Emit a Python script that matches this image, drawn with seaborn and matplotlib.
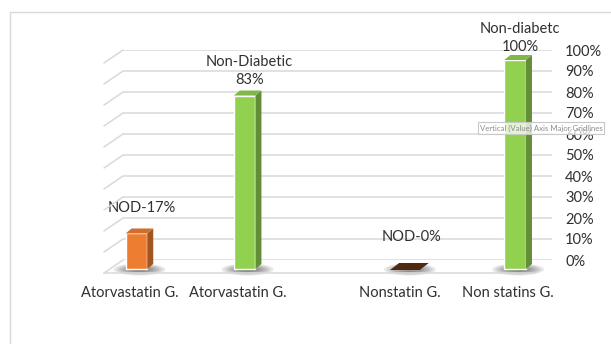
import matplotlib
matplotlib.use("Agg")
import numpy as np
import pandas as pd
import seaborn as sns
import matplotlib.pyplot as plt
from matplotlib.patches import Polygon, Ellipse
from matplotlib.lines import Line2D
from matplotlib.transforms import IdentityTransform

# ---------------- data ----------------
groups = ["Atorvastatin", "Atorvastatin", "Nonstatin", "Nonstatin"]
status = ["NOD", "Non-Diabetic", "NOD", "Non-Diabetic"]
values = [17, 83, 0, 100]
tick_labels = ["Atorvastatin G.", "Atorvastatin G.", "Nonstatin G.", "Non statins G."]
data_labels = ["NOD-17%", "Non-Diabetic\n83%", "NOD-0%", "Non-diabetc\n100%"]
y_ticks = [0, 10, 20, 30, 40, 50, 60, 70, 80, 90, 100]

# ---------------- style ----------------
sns.set_style("white")
plt.rcParams["font.family"] = ["Lato", "DejaVu Sans"]
TXT = "#303030"
GRID = "#D9D9D9"
ORANGE = "#ED7D31"
GREEN = "#92D050"
ZERO_TOP = "#4E2A10"
DX, DY = 6, 5                       # depth of the 3-D boxes in pixels
label_gap_px = [18, 9, 25, 6]       # gap between bar top and its data label
tick_shift_px = -7

W, H = 611, 344
fig = plt.figure(figsize=(W / 100, H / 100), dpi=100)
fig.patch.set_facecolor("white")


def fx(px):
    return px / W


def fy(py):
    return 1 - py / H


def shade(c, f):
    r, g, b = matplotlib.colors.to_rgb(c)
    return (r * f, g * f, b * f)


# chart-area border (top and left edges visible)
fig.add_artist(Line2D([fx(10), fx(10)], [fy(12), 0], color=GRID, lw=1))
fig.add_artist(Line2D([fx(10), 1], [fy(12), fy(12)], color=GRID, lw=1))

# ---------------- back wall (gridlines + value axis) ----------------
back = fig.add_axes([fx(123), fy(260), (552 - 123) / W, 210 / H])
back.set_xlim(0, 1)
back.set_ylim(0, 100)
for t in y_ticks:
    back.axhline(t, color=GRID, lw=1.1, zorder=0)
back.yaxis.tick_right()
back.set_yticks(y_ticks, [f"{t}%" for t in y_ticks])
back.tick_params(axis="y", length=0, pad=9.4, labelsize=10.5, labelcolor=TXT)
back.set_xticks([])
for s in back.spines.values():
    s.set_visible(False)
back.patch.set_alpha(0)

# side-wall slants for each gridline and the floor front edge
for t in y_ticks:
    x0, y0 = back.transData.transform((0, t))
    fig.add_artist(Line2D([x0, x0 - 19], [y0, y0 - 13], color=GRID, lw=1.1,
                          transform=IdentityTransform()))
x0, y0 = back.transData.transform((0, 0))
x1, _ = back.transData.transform((1, 0))
fig.add_artist(Line2D([x0 - 19, x1 - 19], [y0 - 12.5, y0 - 12.5], color=GRID, lw=1.1,
                      transform=IdentityTransform()))

# ---------------- front plane with the bars ----------------
ax = fig.add_axes([fx(104), fy(269), (533 - 104) / W, 209 / H])
ax.patch.set_alpha(0)
df = pd.DataFrame({"group": groups, "status": status, "value": values})
sns.barplot(data=df, x="group", y="value", hue="status",
            hue_order=["NOD", "Non-Diabetic"], palette=[ORANGE, GREEN],
            width=0.8, gap=0.8, saturation=1, legend=False, ax=ax, zorder=3)
bars = sorted(list(ax.patches), key=lambda p: p.get_x())
ax.set_xlim(-0.3198, 1.266)
ax.set_ylim(0, 100)
ax.set_xticks([])
ax.set_yticks([])
ax.set_xlabel("")
ax.set_ylabel("")
for s in ax.spines.values():
    s.set_visible(False)

for i, p in enumerate(bars):
    x0d, h = p.get_x(), p.get_height()
    x1d = x0d + p.get_width()
    (px0, py0) = ax.transData.transform((x0d, 0))
    (px1, py1) = ax.transData.transform((x1d, h))
    base = p.get_facecolor()
    # soft shadow on the floor
    cx = (px0 + px1) / 2 + 3
    for k in range(7):
        e = Ellipse((cx, py0 - 0.5), 52 - k * 6, 12 - k * 1.4, color="black",
                    alpha=0.085, lw=0, transform=IdentityTransform(), zorder=1,
                    clip_on=False)
        ax.add_artist(e)
    if h > 0:
        side = Polygon([(px1, py0), (px1, py1), (px1 + DX, py1 + DY), (px1 + DX, py0 + DY)],
                       closed=True, fc=shade(base, 0.68), ec="none",
                       transform=IdentityTransform(), zorder=4, clip_on=False)
        top = Polygon([(px0, py1), (px1, py1), (px1 + DX, py1 + DY), (px0 + DX, py1 + DY)],
                      closed=True, fc=shade(base, 0.88), ec="none",
                      transform=IdentityTransform(), zorder=4, clip_on=False)
        ax.add_artist(side)
        ax.add_artist(top)
    else:
        top = Polygon([(px0 - 6, py1 - 1), (px1 + 2, py1 - 1),
                       (px1 + DX + 5, py1 + DY + 1), (px0 + DX - 3, py1 + DY + 1)],
                      closed=True, fc=ZERO_TOP, ec="none",
                      transform=IdentityTransform(), zorder=4, clip_on=False)
        ax.add_artist(top)
    p.set_zorder(3)
    p.set_clip_on(False)

    cxd = x0d + p.get_width() / 2
    # data label
    ax.annotate(data_labels[i], (cxd, h), xytext=(DX / 2 + 2, label_gap_px[i]),
                textcoords="offset pixels", ha="center", va="bottom",
                fontsize=10.5, color=TXT, linespacing=1.35, zorder=6,
                annotation_clip=False)
    # category label
    ax.annotate(tick_labels[i], (cxd, 0), xytext=(tick_shift_px, -24),
                textcoords="offset pixels", ha="center", va="center",
                fontsize=10.5, color=TXT, annotation_clip=False)

# hover tooltip seen in the screenshot
fig.text(fx(541), fy(128), "Vertical (Value) Axis Major Gridlines", ha="center", va="center",
         fontsize=5.6, color="#8C8C8C",
         bbox=dict(boxstyle="square,pad=0.25", fc=(1, 1, 1, 0.75), ec="#C8C8C8", lw=0.8),
         zorder=10)

fig.savefig("out.png", dpi=100)
